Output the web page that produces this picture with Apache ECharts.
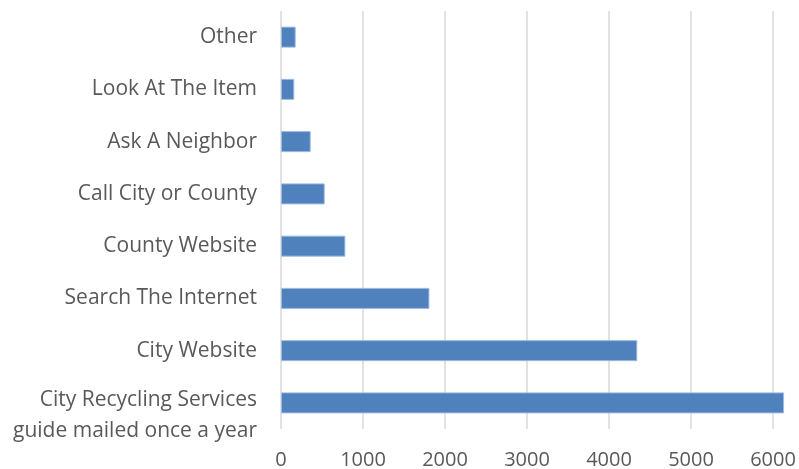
<!DOCTYPE html>
<html>
<head>
<meta charset="utf-8">
<script src="https://cdn.jsdelivr.net/npm/echarts@6/dist/echarts.min.js"></script>
<style>html,body{margin:0;padding:0;background:#fff;}#c{width:799px;height:469px;}</style>
</head>
<body>
<div id="c"></div>
<script>
const categories = [
  "City Recycling Services\nguide mailed once a year",
  "City Website",
  "Search The Internet",
  "County Website",
  "Call City or County",
  "Ask A Neighbor",
  "Look At The Item",
  "Other"
];
const values = [6135, 4345, 1810, 785, 533, 362, 162, 179];
const tickValues = [0, 1000, 2000, 3000, 4000, 5000, 6000, 7000];

const chart = echarts.init(document.getElementById('c'), null, {renderer: 'canvas'});
const font = '"Open Sans", "Liberation Sans", sans-serif';
chart.setOption({
  animation: false,
  backgroundColor: '#ffffff',
  grid: {left: 281, top: 11, width: 574, height: 418, containLabel: false, outerBoundsMode: 'none'},
  xAxis: {
    type: 'value',
    min: tickValues[0],
    max: tickValues[tickValues.length - 1],
    interval: 1000,
    axisLine: {show: false},
    axisTick: {show: false},
    splitLine: {show: true, lineStyle: {color: '#d9d9d9', width: 1.5}},
    axisLabel: {color: '#595959', fontSize: 20, fontFamily: font, margin: 21,
      formatter: v => String(v)}
  },
  yAxis: {
    type: 'category',
    data: categories,
    axisLine: {show: false},
    axisTick: {show: false},
    splitLine: {show: false},
    axisLabel: {
      interval: 0,
      color: '#595959', fontSize: 21, fontFamily: font, margin: 24, align: 'right',
      formatter: (v, i) => i === 0 ? '{two|' + v + '}' : v,
      rich: {
        two: {color: '#595959', fontSize: 21, fontFamily: font, lineHeight: 31, padding: [25, 0, 0, 0], align: 'right'}
      }
    }
  },
  series: [{
    type: 'bar',
    data: values,
    barWidth: 21,
    itemStyle: {color: '#4f81bd', borderColor: '#9cb9de', borderWidth: 1}
  }]
});
</script>
</body>
</html>
